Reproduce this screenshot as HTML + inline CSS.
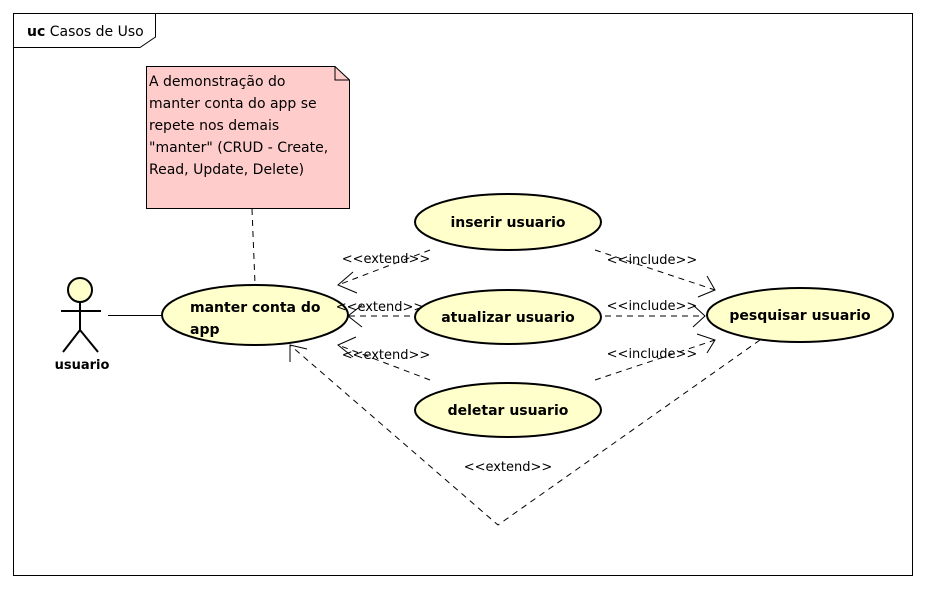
<!DOCTYPE html>
<html><head><meta charset="utf-8"><style>
html,body{margin:0;padding:0;background:#fff;}
svg{display:block;}
text{font-family:"DejaVu Sans","Liberation Sans",sans-serif;fill:#000;}
</style></head><body>
<svg width="926" height="589" viewBox="0 0 926 589" xmlns="http://www.w3.org/2000/svg">
<rect x="0" y="0" width="926" height="589" fill="#fff"/>
<rect x="13.5" y="13.5" width="899" height="562" fill="none" stroke="#000" stroke-width="1"/>
<path d="M13.5 47.5 H140 L155.5 37 V13.5" fill="none" stroke="#000"/>
<text x="27" y="36" font-size="14"><tspan font-weight="bold">uc</tspan> Casos de Uso</text>

<!-- note -->
<path d="M146.5 66.5 H335 L349.5 80 V208.5 H146.5 Z" fill="#ffcccc" stroke="#000"/>
<path d="M335 66.5 V80 H349.5" fill="none" stroke="#000"/>
<g font-size="14">
<text x="149" y="86">A demonstração do</text>
<text x="149" y="108">manter conta do app se</text>
<text x="149" y="130">repete nos demais</text>
<text x="149" y="152">"manter" (CRUD - Create,</text>
<text x="149" y="174">Read, Update, Delete)</text>
</g>
<line x1="252" y1="209" x2="255" y2="284" stroke="#000" stroke-dasharray="6,5"/>

<!-- actor -->
<g stroke="#000" stroke-width="2" fill="none">
<circle cx="80" cy="290" r="12" fill="#ffffcc"/>
<line x1="80" y1="302" x2="80" y2="330"/>
<line x1="61" y1="311" x2="101" y2="311"/>
<line x1="80" y1="330" x2="63" y2="352"/>
<line x1="80" y1="330" x2="98" y2="352"/>
</g>
<text x="82" y="369" font-size="13" font-weight="bold" text-anchor="middle">usuario</text>
<line x1="108" y1="315.5" x2="162" y2="315.5" stroke="#000"/>

<!-- ellipses -->
<g fill="#ffffcc" stroke="#000" stroke-width="2">
<ellipse cx="255" cy="315" rx="93" ry="30"/>
<ellipse cx="508" cy="222" rx="93" ry="28"/>
<ellipse cx="508" cy="317" rx="93" ry="27"/>
<ellipse cx="508" cy="410" rx="93" ry="27"/>
<ellipse cx="800" cy="315" rx="93" ry="27"/>
</g>
<g font-size="14" font-weight="bold">
<text x="190" y="312">manter conta do</text>
<text x="190" y="334">app</text>
<text x="508" y="227" text-anchor="middle">inserir usuario</text>
<text x="508" y="322" text-anchor="middle">atualizar usuario</text>
<text x="508" y="415" text-anchor="middle">deletar usuario</text>
<text x="800" y="320" text-anchor="middle">pesquisar usuario</text>
</g>

<!-- dashed connectors -->
<g stroke="#000" fill="none" stroke-dasharray="6,5">
<line x1="430" y1="250" x2="338" y2="285"/>
<line x1="410" y1="316" x2="348" y2="316"/>
<line x1="430" y1="380" x2="338" y2="345"/>
<line x1="595" y1="250" x2="715" y2="290"/>
<line x1="605" y1="316" x2="705" y2="316"/>
<line x1="595" y1="380" x2="715" y2="340"/>
<polyline points="760,340 498,525 290,345"/>
</g>
<!-- arrowheads -->
<g stroke="#000" fill="none">
<polyline points="353,272 338,285 357,293"/>
<polyline points="362,305 348,316 362,327"/>
<polyline points="356,337 338,345 353,357"/>
<polyline points="707,276 715,290 698,297"/>
<polyline points="693,305 705,316 693,327"/>
<polyline points="697,334 715,340 707,353"/>
<polyline points="290,362 290,345 307,349"/>
</g>
<g font-size="13">
<text x="386" y="263" text-anchor="middle">&lt;&lt;extend&gt;&gt;</text>
<text x="380" y="311" text-anchor="middle">&lt;&lt;extend&gt;&gt;</text>
<text x="386" y="359" text-anchor="middle">&lt;&lt;extend&gt;&gt;</text>
<text x="652" y="264" text-anchor="middle">&lt;&lt;include&gt;&gt;</text>
<text x="652" y="310" text-anchor="middle">&lt;&lt;include&gt;&gt;</text>
<text x="652" y="358" text-anchor="middle">&lt;&lt;include&gt;&gt;</text>
<text x="508" y="471" text-anchor="middle">&lt;&lt;extend&gt;&gt;</text>
</g>
</svg>
</body></html>
